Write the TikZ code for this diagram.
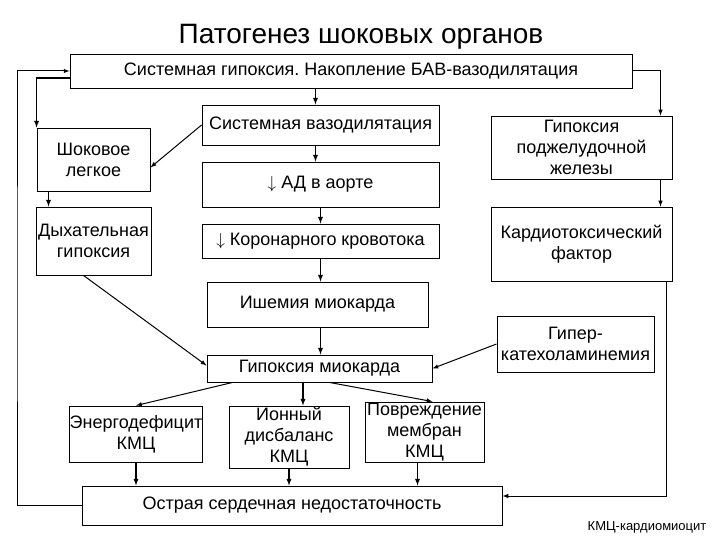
\documentclass[tikz,border=0pt]{standalone}
\usepackage{fontspec}
\setmainfont{Liberation Sans}
\RequirePackage{tikz}
\RequirePackage{tkz-euclide}
\usetikzlibrary{calc}
\usetikzlibrary{arrows.meta}
\frenchspacing

\tikzset{
  box/.style={draw, line width=0.9pt, align=center, inner sep=0pt,
    font=\fontsize{18}{21}\selectfont},
  arr/.style={-latex, line width=1.3pt},
  thinarr/.style={-latex, line width=1pt},
}

\begin{document}
\begin{tikzpicture}[x=1pt,y=-1pt]
                \useasboundingbox (0,0) rectangle (720,540);

                \node (title) at (361,37) {\fontsize{28}{30}\selectfont Патогенез шоковых органов};

                \node[box, minimum width=562, minimum height=34] (top) at (351,71)
                    {Системная гипоксия. Накопление БАВ-вазодилятация};
                \node[box, minimum width=237, minimum height=40] (vazo) at (320.5,125)
                    {Системная вазодилятация};
                \node[box, minimum width=113, minimum height=63] (shok) at (93.5,159.5)
                    {Шоковое\\легкое};
                \node[box, minimum width=237, minimum height=45] (ad) at (320.5,184.5)
                    {$\downarrow$ АД в аорте};
                \node[box, minimum width=181, minimum height=63] (pancr) at (581.5,147.5)
                    {Гипоксия\\поджелудочной\\железы};
                \node[box, minimum width=115, minimum height=68] (resp) at (93.5,241)
                    {Дыхательная\\гипоксия};
                \node[box, minimum width=237, minimum height=34] (coron) at (320.5,241)
                    {$\downarrow$ Коронарного кровотока};
                \node[box, minimum width=181, minimum height=74] (cardtox) at (581.5,244)
                    {Кардиотоксический\\фактор};
                \node[box, minimum width=221, minimum height=45] (isch) at (317.5,304.5)
                    {Ишемия миокарда};
                \node[box, minimum width=157, minimum height=56] (hypercat) at (575.5,344)
                    {Гипер-\\катехоламинемия};
                \node[box, minimum width=225, minimum height=27] (hypmyo) at (319.5,368.5)
                    {Гипоксия миокарда};
                \node[box, minimum width=132, minimum height=56] (energy) at (136,434)
                    {Энергодефицит\\КМЦ};
                \node[box, minimum width=120, minimum height=62] (ion) at (289,437)
                    {Ионный\\дисбаланс\\КМЦ};
                \node[box, minimum width=119, minimum height=60] (damage) at (424.5,432)
                    {Повреждение\\мембран\\КМЦ};
                \node[box, minimum width=420, minimum height=39] (acute) at (292,505.5)
                    {Острая сердечная недостаточность};

                \node[font=\fontsize{13}{15}\selectfont] (note) at (647,527) {КМЦ-кардиомиоцит};

                % points for the bent lines
                \tkzDefPoint(17,300){loopL}
                \coordinate (v1) at ([xshift=-5pt]vazo.north);
                \coordinate (pr) at ([xshift=79pt]pancr.north);
                \coordinate (sl) at ([xshift=-45pt]shok.south);
                \coordinate (ct) at ([xshift=85pt]cardtox.south);
                \coordinate (im) at ([xshift=14pt]ion.north);

                \draw[thinarr] (acute.west) -| (loopL) |- (top.west);
                \draw[arr] ([yshift=-7pt]top.west) -| (shok.north west);
                \draw[thinarr] (top.east) -| (pr);

                \draw[arr] (v1 |- top.south) -- (v1);
                \draw[thinarr] (vazo.west) -- ([yshift=-8pt]shok.east);
                \draw[arr] (v1 |- vazo.south) -- (v1 |- ad.north);
                \draw[arr] (sl) -- (sl |- resp.north);
                \draw[arr] (ad.south) -- (coron.north);
                \draw[thinarr] (pr |- pancr.south) -- (pr |- cardtox.north);
                \draw[arr] (coron.south) -- (coron.south |- isch.north);
                \draw[arr] (coron.south |- isch.south) -- (coron.south |- hypmyo.north);
                \draw[thinarr] ([xshift=-10pt]resp.south) -- ([yshift=3pt]hypmyo.west);
                \draw[thinarr] (ct) |- ([yshift=9.5pt]acute.east);
                \draw[thinarr] (hypercat.west) -- (hypmyo.east);

                \draw[thinarr] ([xshift=26pt]hypmyo.south west) -- (energy.north);
                \draw[arr] (im |- hypmyo.south) -- (im);
                \draw[thinarr] ([xshift=10pt]hypmyo.south) -- ([xshift=8pt]damage.north);

                \draw[arr] (energy.south) -- (energy.south |- acute.north);
                \draw[arr] (ion.south) -- (ion.south |- acute.north);
                \draw[arr] ([xshift=-7pt]damage.south) -- ([xshift=-7pt]damage.south |- acute.north);
            \end{tikzpicture}
\end{document}
